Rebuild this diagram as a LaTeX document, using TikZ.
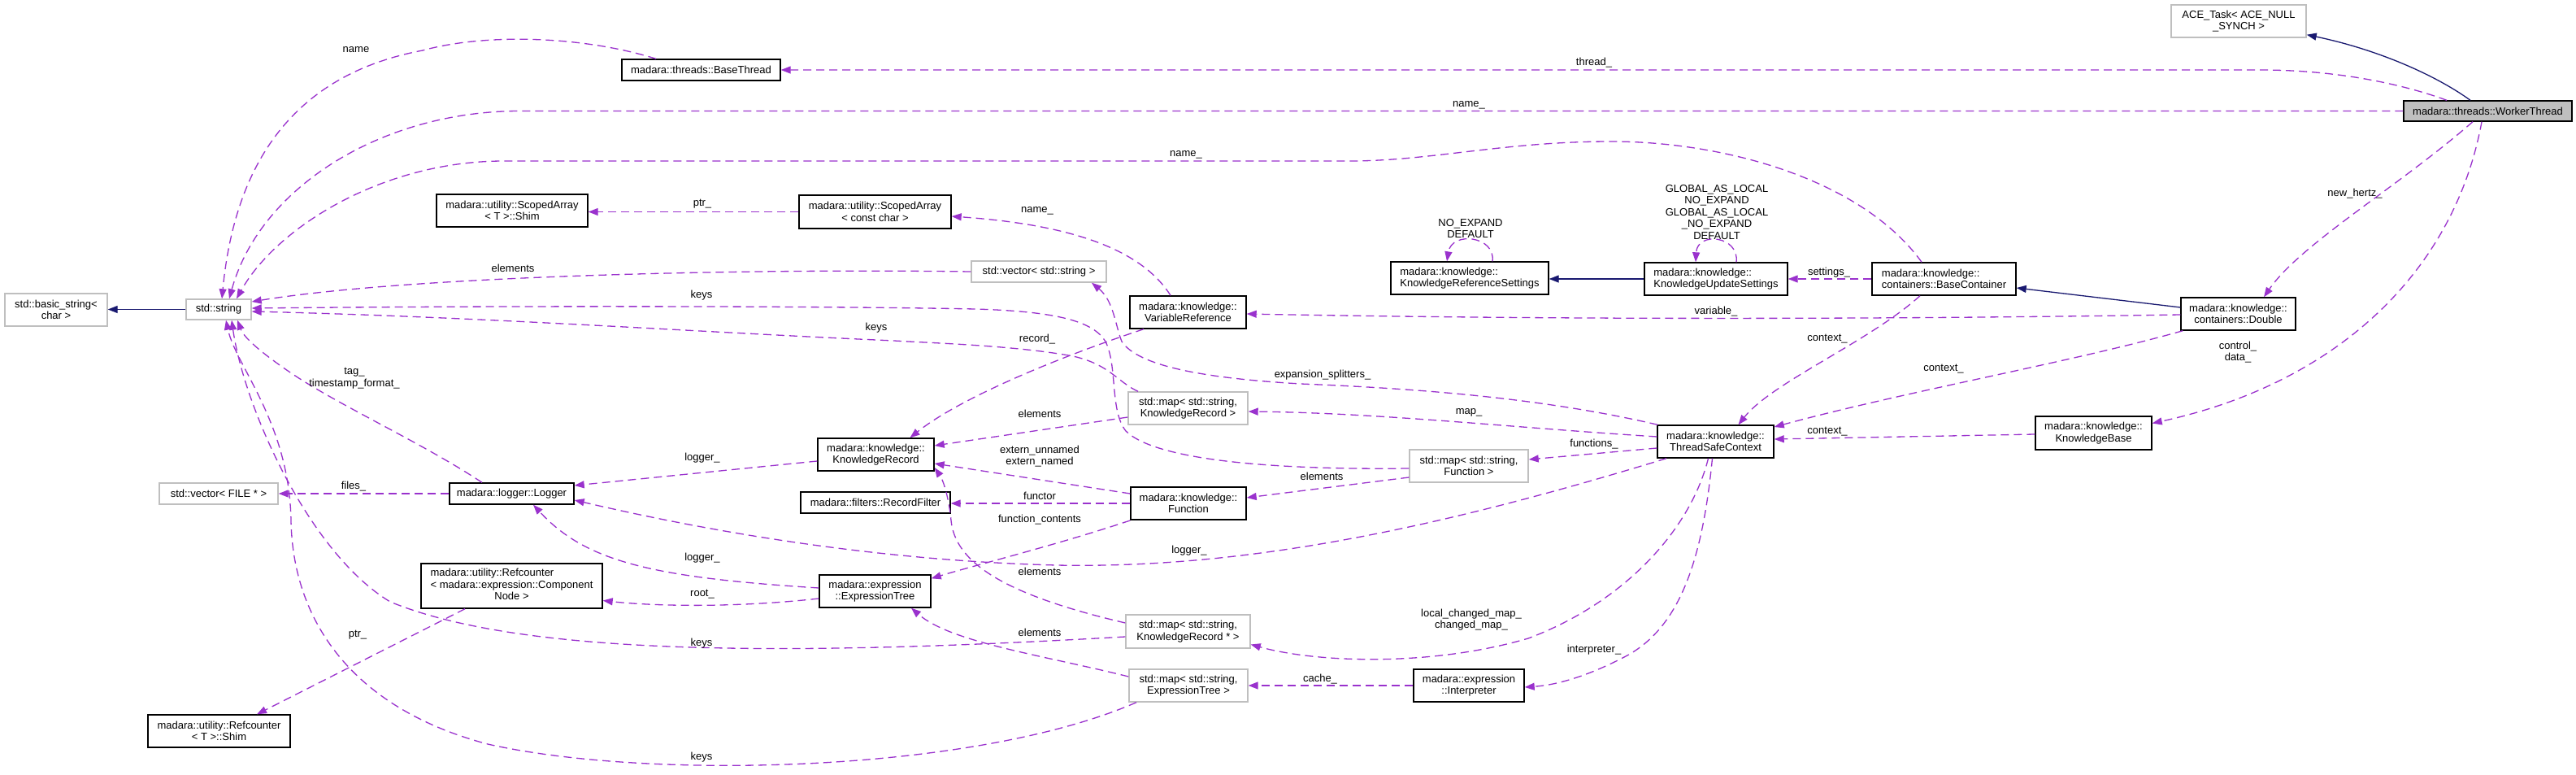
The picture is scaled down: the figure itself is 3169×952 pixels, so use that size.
\documentclass[tikz,border=0pt]{standalone}
\usepackage{fontspec}
\setmainfont{Liberation Sans}
\usetikzlibrary{arrows.meta}
\definecolor{edgepurple}{HTML}{9A32CD}
\definecolor{inhnavy}{HTML}{191970}
\definecolor{extgray}{HTML}{BFBFBF}
\begin{document}
\begin{tikzpicture}[x=1bp,y=-1bp,
  txt/.style={font=\fontsize{13bp}{14.5bp}\selectfont, inner sep=0pt},
  cls/.style={txt, draw=black, line width=1.4bp, fill=white, align=center},
  ext/.style={cls, draw=extgray},
  lbl/.style={txt, align=center},
  memb/.style={draw=edgepurple, line width=1.3bp, dash pattern=on 10bp off 6bp, -{Triangle[length=12bp,width=9bp]}},
  inh/.style={draw=inhnavy, line width=1.3bp, -{Triangle[length=12bp,width=9bp]}}]
\useasboundingbox[fill=white] (0,0) rectangle (3169,952);

% ---------- nodes ----------
\node[ext, minimum width=166bp, minimum height=40bp] (ace) at (2754,26) {ACE\_Task< ACE\_NULL\\\_SYNCH >};
\node[cls, fill=extgray, minimum width=207bp, minimum height=25bp] (wt) at (3060.5,136.5) {madara::threads::WorkerThread};
\node[cls, minimum width=195bp, minimum height=26bp] (bthread) at (862.5,86) {madara::threads::BaseThread};
\node[cls, minimum width=186bp, minimum height=40bp] (sashim) at (630,259) {madara::utility::ScopedArray\\< T >::Shim};
\node[ext, minimum width=126bp, minimum height=40bp] (basic) at (69,381) {std::basic\_string<\\char >};
\node[ext, minimum width=80bp, minimum height=25bp] (str) at (269,380.5) {std::string};
\node[cls, minimum width=187bp, minimum height=41bp] (sacc) at (1076.5,260.5) {madara::utility::ScopedArray\\< const char >};
\node[ext, minimum width=166bp, minimum height=26bp] (vecstr) at (1278,334) {std::vector< std::string >};
\node[cls, minimum width=143bp, minimum height=40bp] (varref) at (1461.5,384) {madara::knowledge::\\VariableReference};
\node[cls, align=left, minimum width=194bp, minimum height=40bp] (krs) at (1808,342) {madara::knowledge::\\KnowledgeReferenceSettings};
\node[cls, align=left, minimum width=176bp, minimum height=40bp] (kus) at (2111,343) {madara::knowledge::\\KnowledgeUpdateSettings};
\node[cls, align=left, minimum width=177bp, minimum height=40bp] (bc) at (2391.5,343) {madara::knowledge::\\containers::BaseContainer};
\node[cls, minimum width=141bp, minimum height=40bp] (dbl) at (2753.5,386) {madara::knowledge::\\containers::Double};
\node[ext, minimum width=147bp, minimum height=40bp] (mapkr) at (1461.5,502) {std::map< std::string,\\ KnowledgeRecord >};
\node[cls, minimum width=143bp, minimum height=40bp] (kr) at (1077.5,559) {madara::knowledge::\\KnowledgeRecord};
\node[cls, minimum width=142bp, minimum height=40bp] (func) at (1462,619) {madara::knowledge::\\Function};
\node[ext, minimum width=146bp, minimum height=40bp] (mapfn) at (1807,573) {std::map< std::string,\\ Function >};
\node[cls, minimum width=143bp, minimum height=40bp] (tsc) at (2110.5,543) {madara::knowledge::\\ThreadSafeContext};
\node[cls, minimum width=143bp, minimum height=41bp] (kb) at (2575.5,532.5) {madara::knowledge::\\KnowledgeBase};
\node[cls, minimum width=184bp, minimum height=26bp] (rfilter) at (1077,618) {madara::filters::RecordFilter};
\node[cls, minimum width=153bp, minimum height=26bp] (logger) at (629.5,607) {madara::logger::Logger};
\node[ext, minimum width=146bp, minimum height=26bp] (vecfile) at (269,607) {std::vector< FILE * >};
\node[cls, minimum width=137bp, minimum height=40bp] (etree) at (1076.5,727) {madara::expression\\::ExpressionTree};
\node[cls, minimum width=223bp, minimum height=55bp] (rccn) at (629.5,720.5) {\begin{tabular}{@{}l@{}}madara::utility::Refcounter\\< madara::expression::Component\\\multicolumn{1}{@{}c@{}}{Node >}\end{tabular}};
\node[cls, minimum width=175bp, minimum height=40bp] (rcshim) at (269.5,899) {madara::utility::Refcounter\\< T >::Shim};
\node[ext, minimum width=153bp, minimum height=41bp] (mapkrp) at (1461.5,776.5) {std::map< std::string,\\ KnowledgeRecord * >};
\node[ext, minimum width=146bp, minimum height=40bp] (mapet) at (1462,843) {std::map< std::string,\\ ExpressionTree >};
\node[cls, minimum width=136bp, minimum height=40bp] (interp) at (1807,843) {madara::expression\\::Interpreter};

% ---------- inheritance ----------
\draw[inh] ([xshift=-21.5bp]wt.north) .. controls (3000,95) and (2930,62) .. ([yshift=4bp]ace.south east);
\draw[inh] (str.west) -- (basic.east |- str.west);
\draw[inh] ([yshift=8bp]dbl.west) -- ([yshift=-11bp]bc.east);
\draw[inh] (kus.west) -- (kus.west -| krs.east);

% ---------- members ----------
\draw[memb] ([xshift=-50.5bp]wt.north) .. controls (2960,105) and (2880,86) .. (2780,86) -- (bthread.east);
\draw[memb] (wt.west) -- (640,136.5) .. controls (470,136.5) and (320,230) .. ([xshift=13bp]str.north);
\draw[memb] ([xshift=-55.5bp]bthread.north) .. controls (720,45) and (600,40) .. (520,62) .. controls (370,90) and (290,190) .. ([xshift=4bp]str.north);
\draw[memb] ([xshift=-27.5bp]bc.north) .. controls (2290,220) and (2120,174) .. (1982,174) .. controls (1850,174) and (1760,198) .. (1660,198) -- (620,198) .. controls (470,198) and (340,280) .. ([xshift=22bp]str.north);
\draw[memb] (sacc.west) -- (sacc.west -| sashim.east);
\draw[memb] ([xshift=-21.5bp]varref.north) .. controls (1400,300) and (1300,275) .. ([yshift=-5.5bp]sacc.east);
\draw[memb] (vecstr.west) .. controls (900,330) and (500,340) .. ([yshift=9.5bp]str.east);
\draw[memb] ([yshift=-3bp]mapfn.west) .. controls (1560,578) and (1420,565) .. (1385,530) .. controls (1365,505) and (1375,450) .. (1360,420) .. controls (1345,395) and (1300,383) .. (1200,380) .. controls (1000,376) and (600,376) .. ([yshift=1.5bp]str.east);
\draw[memb] ([xshift=-61.5bp]mapkr.north) .. controls (1375,470) and (1365,448) .. (1320,438) .. controls (1250,425) and (1150,422) .. (1100,419) .. controls (850,408) and (600,390) .. ([yshift=-2.5bp]str.east);
\draw[memb] ([xshift=1bp]tsc.north west) .. controls (1900,490) and (1750,478) .. (1600,472) .. controls (1480,465) and (1400,450) .. (1380,420) .. controls (1372,400) and (1370,370) .. ([xshift=65bp]vecstr.south);
\draw[memb] ([xshift=-54.5bp]varref.south) .. controls (1300,440) and (1180,490) .. ([xshift=42bp]kr.north);
\draw[memb] ([yshift=6bp]tsc.west) .. controls (1850,525) and (1700,508) .. ([yshift=-4bp]mapkr.east);
\draw[memb] ([yshift=-8bp]tsc.west) -- ([yshift=8bp]mapfn.east);
\draw[memb] ([yshift=-14bp]mapfn.west) -- ([yshift=7bp]func.east);
\draw[memb] ([yshift=-11bp]mapkr.west) -- ([yshift=11bp]kr.east);
\draw[memb] ([yshift=12bp]func.west) -- ([yshift=-11bp]kr.east);
\draw[memb] (func.west) -- (func.west -| rfilter.east);
\draw[memb] ([yshift=-21bp]func.west) .. controls (1300,670) and (1200,695) .. ([yshift=-5bp]etree.north east);
\draw[memb] ([xshift=-60.5bp]tsc.south) .. controls (1800,640) and (1550,700) .. (1300,695) .. controls (1100,690) and (900,660) .. ([yshift=-8bp]logger.east);
\draw[memb] ([yshift=-8bp]kr.west) -- ([yshift=10bp]logger.east);
\draw[memb] ([yshift=4bp]etree.west) .. controls (800,710) and (720,690) .. ([xshift=26.5bp]logger.south);
\draw[memb] ([yshift=-9bp]etree.west) .. controls (900,748) and (800,745) .. ([yshift=-18bp]rccn.east);
\draw[memb] ([xshift=-57.5bp]rccn.south) -- ([xshift=46.5bp]rcshim.north);
\draw[memb] (logger.west) -- (vecfile.east);
\draw[memb] ([xshift=-36.5bp]logger.north) .. controls (520,545) and (420,500) .. (360,460) .. controls (320,433) and (300,415) .. ([xshift=23bp]str.south);
\draw[memb] ([yshift=-6.5bp]mapkrp.west) .. controls (1000,805) and (650,810) .. (480,740) .. controls (380,680) and (300,500) .. ([xshift=16bp]str.south);
\draw[memb] ([xshift=-64bp]mapet.south) .. controls (1200,950) and (800,960) .. (600,915) .. controls (430,870) and (360,760) .. (358,640) .. controls (356,520) and (290,450) .. ([xshift=9bp]str.south);
\draw[memb] ([yshift=10.5bp]mapkrp.west) .. controls (1230,730) and (1175,690) .. (1170,640) .. controls (1167,610) and (1160,590) .. ([yshift=-16bp]kr.east);
\draw[memb] ([yshift=11bp]mapet.west) .. controls (1280,805) and (1170,790) .. ([xshift=44.5bp]etree.south);
\draw[memb] ([xshift=-9bp]tsc.south) .. controls (2080,650) and (2000,740) .. (1880,785) .. controls (1760,820) and (1620,815) .. ([yshift=-16bp]mapkrp.east);
\draw[memb] ([xshift=-4bp]tsc.south) .. controls (2095,680) and (2070,770) .. (2000,807) .. controls (1960,828) and (1920,842) .. ([yshift=-2bp]interp.east);
\draw[memb] (interp.west) -- (mapet.east);
\draw[memb] (bc.west) -- (kus.east);
\draw[memb] ([yshift=-1bp]dbl.west) .. controls (2300,393) and (1900,393) .. ([yshift=-2bp]varref.east);
\draw[memb] ([xshift=-29.5bp]bc.south) .. controls (2300,420) and (2180,470) .. ([xshift=28bp]tsc.north);
\draw[memb] ([xshift=3bp]dbl.south west) .. controls (2550,445) and (2350,480) .. ([yshift=18bp]tsc.east);
\draw[memb] ([yshift=-1.5bp]kb.west) -- ([yshift=3bp]tsc.east);
\draw[memb] ([xshift=-7.5bp]wt.south) .. controls (3020,330) and (2880,470) .. ([yshift=12bp]kb.east);
\draw[memb] ([xshift=-18.5bp]wt.south) .. controls (2950,230) and (2830,300) .. ([xshift=31.5bp]dbl.north);
\draw[memb] ([xshift=28bp]krs.north) .. controls (1840,290) and (1786,284) .. ([xshift=-28bp]krs.north);
\draw[memb] ([xshift=25bp]kus.north) .. controls (2140,290) and (2088,284) .. ([xshift=-25bp]kus.north);

% ---------- labels ----------
\node[lbl] (l1) at (1961,77) {thread\_};
\node[lbl] (l2) at (1807,129) {name\_};
\node[lbl] (l3) at (438,61) {name};
\node[lbl] (l4) at (1459,190) {name\_};
\node[lbl] (l5) at (864,251) {ptr\_};
\node[lbl] (l6) at (1276,259) {name\_};
\node[lbl] (l7) at (631,330) {elements};
\node[lbl] (l8) at (863,363) {keys};
\node[lbl] (l9) at (1078,403) {keys};
\node[lbl] (l10) at (1276,417) {record\_};
\node[lbl] (l11) at (1627,461) {expansion\_splitters\_};
\node[lbl] (l12) at (1809,281) {NO\_EXPAND\\DEFAULT};
\node[lbl] (l13) at (2112,261) {GLOBAL\_AS\_LOCAL\\NO\_EXPAND\\GLOBAL\_AS\_LOCAL\\\_NO\_EXPAND\\DEFAULT};
\node[lbl] (l14) at (2250,335) {settings\_};
\node[lbl] (l15) at (2897,238) {new\_hertz\_};
\node[lbl] (l16) at (2111,383) {variable\_};
\node[lbl] (l17) at (2248,417) {context\_};
\node[lbl] (l18) at (2391,454) {context\_};
\node[lbl] (l19) at (2753,433) {control\_\\data\_};
\node[lbl] (l20) at (2248,531) {context\_};
\node[lbl] (l21) at (1807,507) {map\_};
\node[lbl] (l22) at (1961,546) {functions\_};
\node[lbl] (l23) at (1279,509) {elements};
\node[lbl] (l24) at (1279,561) {extern\_unnamed\\extern\_named};
\node[lbl] (l25) at (1626,586) {elements};
\node[lbl] (l26) at (1279,610) {functor};
\node[lbl] (l27) at (1279,639) {function\_contents};
\node[lbl] (l28) at (1463,677) {logger\_};
\node[lbl] (l29) at (1279,703) {elements};
\node[lbl] (l30) at (1810,762) {local\_changed\_map\_\\changed\_map\_};
\node[lbl] (l31) at (1279,778) {elements};
\node[lbl] (l32) at (1961,799) {interpreter\_};
\node[lbl] (l33) at (1624,835) {cache\_};
\node[lbl] (l34) at (864,563) {logger\_};
\node[lbl] (l35) at (864,686) {logger\_};
\node[lbl] (l36) at (864,731) {root\_};
\node[lbl] (l37) at (440,781) {ptr\_};
\node[lbl] (l38) at (863,791) {keys};
\node[lbl] (l39) at (863,931) {keys};
\node[lbl] (l40) at (435,598) {files\_};
\node[lbl] (l41) at (436,465) {tag\_\\timestamp\_format\_};
\end{tikzpicture}
\end{document}
